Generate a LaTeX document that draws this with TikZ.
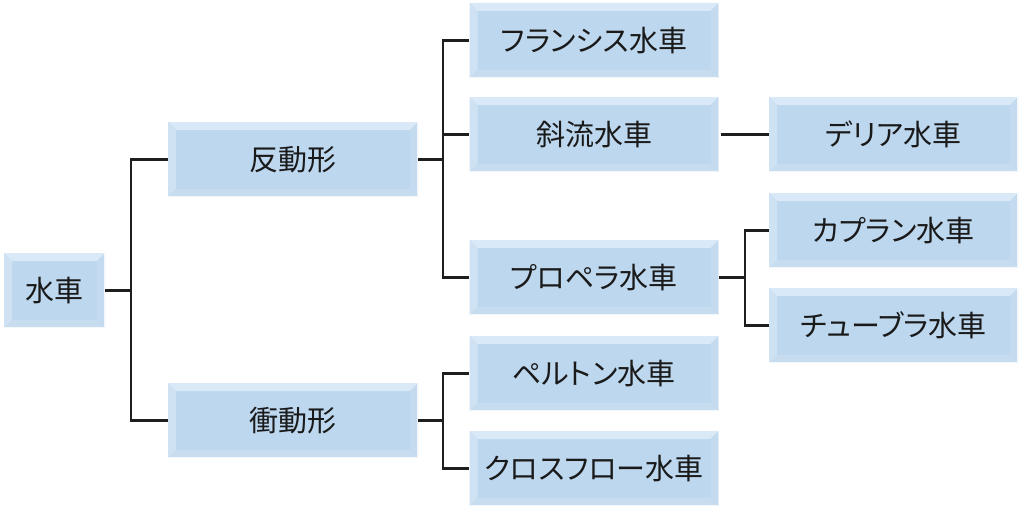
\documentclass[tikz,border=0pt]{standalone}
\usepackage{fontspec}
\newfontfamily\jpf[RawFeature=+palt]{Noto Sans CJK JP}
\usetikzlibrary{calc}
\definecolor{boxblue}{HTML}{BDD7EE}
\definecolor{bevtop}{HTML}{DAE9F7}
\definecolor{bevleft}{HTML}{CFE2F4}
\definecolor{bevbot}{HTML}{C8DCEF}
\definecolor{bevright}{HTML}{C4DAEF}
\definecolor{txt}{HTML}{1A1A1A}
\definecolor{lin}{HTML}{1E1E1E}
\tikzset{
  bx/.style={rectangle, fill=boxblue, inner sep=0pt, text=txt,
    font=\jpf\fontsize{29}{31}\selectfont,
    path picture={
      \fill[bevtop] (path picture bounding box.north west) -- (path picture bounding box.north east)
        -- ($(path picture bounding box.north east)+(-8pt,-8pt)$) -- ($(path picture bounding box.north west)+(8pt,-8pt)$) -- cycle;
      \fill[bevleft] (path picture bounding box.north west) -- (path picture bounding box.south west)
        -- ($(path picture bounding box.south west)+(8pt,8pt)$) -- ($(path picture bounding box.north west)+(8pt,-8pt)$) -- cycle;
      \fill[bevbot] (path picture bounding box.south west) -- (path picture bounding box.south east)
        -- ($(path picture bounding box.south east)+(-8pt,8pt)$) -- ($(path picture bounding box.south west)+(8pt,8pt)$) -- cycle;
      \fill[bevright] (path picture bounding box.north east) -- (path picture bounding box.south east)
        -- ($(path picture bounding box.south east)+(-8pt,8pt)$) -- ($(path picture bounding box.north east)+(-8pt,-8pt)$) -- cycle;
      \draw[white, line width=1.2pt, opacity=0.8] (path picture bounding box.south west) -- (path picture bounding box.south east) -- (path picture bounding box.north east);
    }},
  wide/.style={bx, minimum width=249pt, minimum height=75pt},
  conn/.style={draw=lin, line width=2.1pt}
}
\begin{document}
\begin{tikzpicture}[x=1pt,y=-1pt]
\useasboundingbox (0,0) rectangle (1024,511);
\node[bx, minimum width=101pt, minimum height=75pt] (root) at (54.5,290.5) {水車};
\node[wide, minimum width=250pt] (hando) at (293,159.5) {反動形};
\node[wide, minimum width=250pt] (shodo) at (293,420.5) {衝動形};
\node[wide] (fr) at (594,40.5) {フランシス水車};
\node[wide] (sha) at (594,134.5) {斜流水車};
\node[wide] (pro) at (594,277.5) {プロペラ水車};
\node[wide] (pel) at (594,373.5) {ペルトン水車};
\node[wide] (cro) at (594,468.5) {クロスフロー水車};
\node[wide] (der) at (893.5,134.5) {デリア水車};
\node[wide] (kap) at (893.5,230.5) {カプラン水車};
\node[wide] (tub) at (893.5,325.5) {チューブラ水車};
\coordinate (j0) at (131,290.5);
\coordinate (j1) at (443,159.5);
\coordinate (j2) at (443,420.5);
\coordinate (j3) at (745,277.5);
\draw[conn] (root.east) -- (j0);
\draw[conn] (j0) |- (hando.west);
\draw[conn] (j0) |- (shodo.west);
\draw[conn] (hando.east) -- (j1);
\draw[conn] (j1) |- (fr.west);
\draw[conn] (j1) |- (sha.west);
\draw[conn] (j1) |- (pro.west);
\draw[conn] (shodo.east) -- (j2);
\draw[conn] (j2) |- (pel.west);
\draw[conn] (j2) |- (cro.west);
\draw[conn] ([xshift=2pt]sha.east) -- (der.west);
\draw[conn] (pro.east) -- (j3);
\draw[conn] (j3) |- (kap.west);
\draw[conn] (j3) |- (tub.west);
\end{tikzpicture}
\end{document}
